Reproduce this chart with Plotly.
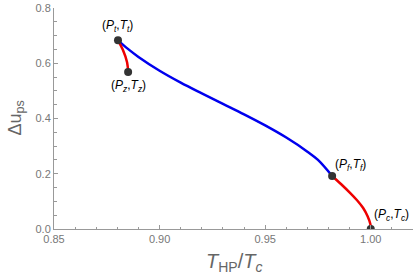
import plotly.graph_objects as go

# Blue branch (Pt -> Pf)
blue_x = [0.8803, 0.885, 0.89, 0.90, 0.91, 0.92, 0.93, 0.94, 0.95, 0.96, 0.97, 0.975, 0.9817]
blue_y = [0.683, 0.652, 0.623, 0.573, 0.530, 0.491, 0.453, 0.415, 0.375, 0.331, 0.280, 0.250, 0.192]
# Red branch (Pf -> Pc)
red1_x = [0.9817, 0.986, 0.9903, 0.9935, 0.9964, 0.9985, 0.9998, 1.0]
red1_y = [0.192, 0.162, 0.130, 0.104, 0.076, 0.046, 0.018, 0.0]
# Red branch (Pt -> Pz)
red2_x = [0.8803, 0.8827, 0.8846, 0.8851]
red2_y = [0.683, 0.647, 0.604, 0.568]
# Special points
pt_x = [0.8803, 0.8851, 0.9817, 1.0]
pt_y = [0.683, 0.568, 0.192, 0.0]
pt_labels = ["(<i>P<sub>t</sub></i>,<i>T<sub>t</sub></i>)",
             "(<i>P<sub>z</sub></i>,<i>T<sub>z</sub></i>)",
             "(<i>P<sub>f</sub></i>,<i>T<sub>f</sub></i>)",
             "(<i>P<sub>c</sub></i>,<i>T<sub>c</sub></i>)"]
label_offsets = [(0, 14, "center"), (0, -14, "center"), (1, 11, "left"), (1, 14, "left")]

x_ticks = [0.85, 0.90, 0.95, 1.00]
x_tick_labels = ["0.85", "0.90", "0.95", "1.00"]
y_ticks = [0.0, 0.2, 0.4, 0.6, 0.8]
y_tick_labels = ["0.0", "0.2", "0.4", "0.6", "0.8"]

fig = go.Figure()
fig.add_trace(go.Scatter(x=blue_x, y=blue_y, mode="lines", line=dict(color="#0000ee", width=2.5, shape="spline", smoothing=1.0), showlegend=False))
fig.add_trace(go.Scatter(x=red1_x, y=red1_y, mode="lines", line=dict(color="#ee0000", width=2.5, shape="spline", smoothing=1.0), showlegend=False))
fig.add_trace(go.Scatter(x=red2_x, y=red2_y, mode="lines", line=dict(color="#ee0000", width=2.5, shape="spline"), showlegend=False))
fig.add_trace(go.Scatter(x=pt_x, y=pt_y, mode="markers", marker=dict(color="#333333", size=8), showlegend=False))

for x, y, lab, (dx, dy, anc) in zip(pt_x, pt_y, pt_labels, label_offsets):
    fig.add_annotation(x=x, y=y, text=lab, showarrow=False, xshift=dx, yshift=dy,
                       xanchor=anc, yanchor="middle",
                       font=dict(family="Liberation Sans", size=12, color="#000000"))

# axis titles
fig.add_annotation(xref="paper", yref="paper", x=0, y=0.5, xshift=-38, textangle=-90,
                   text="Δu<sub>ps</sub>", showarrow=False, xanchor="center", yanchor="middle",
                   font=dict(family="Liberation Sans", size=18, color="#666666"))
fig.add_annotation(xref="paper", yref="paper", x=0.5, y=0, yshift=-33,
                   text="<i>T</i><sub>HP</sub>/<i>T</i><sub><i>c</i></sub>", showarrow=False,
                   xanchor="center", yanchor="middle",
                   font=dict(family="Liberation Sans", size=20, color="#666666"))

axis_common = dict(showgrid=False, zeroline=False, showline=True, linecolor="#999999", linewidth=1,
                   ticks="inside", ticklen=4, tickcolor="#999999", automargin=False,
                   tickfont=dict(family="Liberation Sans", size=11, color="#777777"))

fig.update_xaxes(range=[0.85, 1.02], tickvals=x_ticks, ticktext=x_tick_labels,
                 minor=dict(dtick=0.01, tick0=0.85, ticks="inside", ticklen=2.5, tickcolor="#999999"),
                 **axis_common)
fig.update_yaxes(range=[0, 0.8], tickvals=y_ticks, ticktext=y_tick_labels,
                 minor=dict(dtick=0.05, tick0=0, ticks="inside", ticklen=2.5, tickcolor="#999999"),
                 **axis_common)

fig.update_layout(width=415, height=279, margin=dict(l=54, r=2, t=8, b=50),
                  paper_bgcolor="white", plot_bgcolor="white")
fig.write_html("out.html", config={"displayModeBar": False},
               post_script="document.body.style.margin='0';")
